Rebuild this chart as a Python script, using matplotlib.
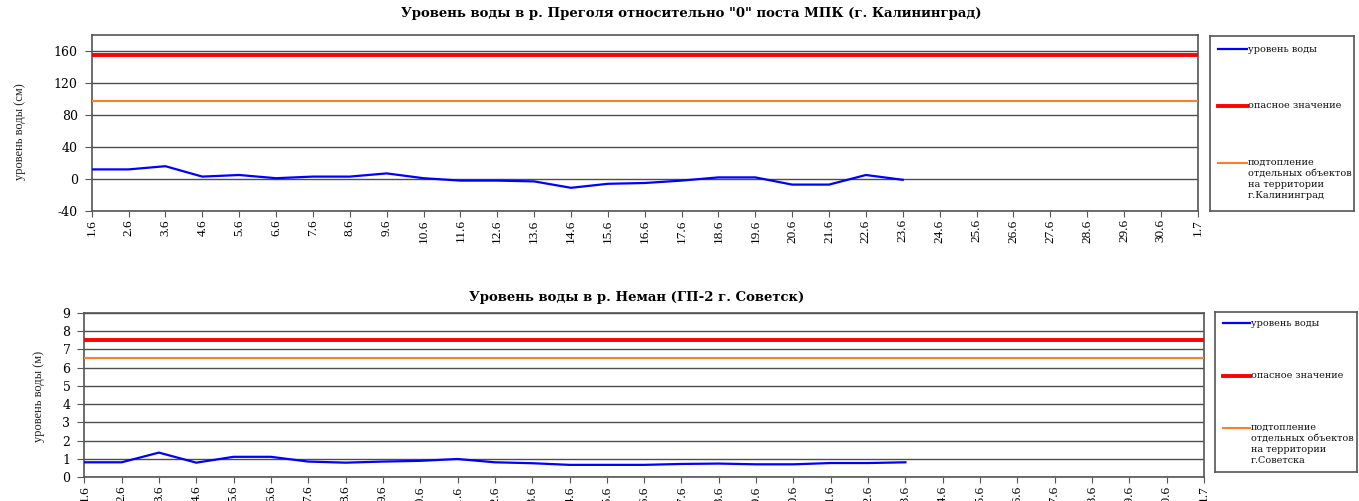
import matplotlib
matplotlib.use("Agg")
import matplotlib.pyplot as plt
from matplotlib.lines import Line2D

plt.rcParams['font.family'] = ['DejaVu Serif', 'Liberation Serif']
plt.rcParams['axes.unicode_minus'] = False

dates = ["1.6", "2.6", "3.6", "4.6", "5.6", "6.6", "7.6", "8.6", "9.6", "10.6",
         "11.6", "12.6", "13.6", "14.6", "15.6", "16.6", "17.6", "18.6", "19.6", "20.6",
         "21.6", "22.6", "23.6", "24.6", "25.6", "26.6", "27.6", "28.6", "29.6", "30.6", "1.7"]

pregolya_level = [12, 12, 16, 3, 5, 1, 3, 3, 7, 1, -2, -2, -3, -11, -6, -5, -2, 2, 2, -7, -7, 5, -1]
pregolya_danger = 155
pregolya_flood = 97

neman_level = [0.82, 0.82, 1.35, 0.80, 1.12, 1.12, 0.86, 0.80, 0.86, 0.90, 1.00, 0.82, 0.77,
               0.68, 0.68, 0.68, 0.73, 0.75, 0.71, 0.71, 0.78, 0.78, 0.82]
neman_danger = 7.5
neman_flood = 6.5

title_top = 'Уровень воды в р. Преголя относительно "0" поста МПК (г. Калининград)'
title_bot = 'Уровень воды в р. Неман (ГП-2 г. Советск)'
ylabel_top = 'уровень воды (см)'
ylabel_bot = 'уровень воды (м)'
legend_labels_top = ['уровень воды', 'опасное значение',
                     'подтопление\nотдельных объектов\nна территории\nг.Калининград']
legend_labels_bot = ['уровень воды', 'опасное значение',
                     'подтопление\nотдельных объектов\nна территории\nг.Советска']

BLUE = '#0000ff'
RED = '#ff0000'
ORANGE = '#ff7f27'
GRID = '#4d4d4d'
SPINE = '#555555'
SERIF_NARROW = ['Liberation Serif', 'DejaVu Serif']

W, H = 1359, 501
fig = plt.figure(figsize=(W / 100, H / 100), dpi=100)
fig.patch.set_facecolor('white')


def px_axes(l, t, r, b):
    return fig.add_axes([l / W, 1 - b / H, (r - l) / W, (b - t) / H])


def draw_chart(ax, level, danger, flood, ylim, yticks, ylabel):
    n = len(dates)
    x = list(range(n))
    ax.plot(x[:len(level)], level, color=BLUE, lw=1.6, zorder=4)
    ax.plot(x, [danger] * n, color=RED, lw=2.8, zorder=3)
    ax.plot(x, [flood] * n, color=ORANGE, lw=1.5, zorder=3)
    ax.set_xlim(0, n - 1)
    ax.set_ylim(*ylim)
    ax.set_yticks(yticks)
    ax.set_xticks(x)
    ax.set_xticklabels(dates, rotation=90, fontsize=9.5, family=SERIF_NARROW)
    ax.tick_params(axis='y', labelsize=9, length=5, color=SPINE, pad=5)
    ax.tick_params(axis='x', length=4, color=SPINE, pad=2)
    ax.grid(axis='y', color=GRID, lw=1.0, zorder=1)
    for s in ax.spines.values():
        s.set_color(SPINE)
        s.set_linewidth(1.2)
    ax.set_ylabel(ylabel, fontsize=9, color='#222222', family=SERIF_NARROW)


def draw_legend(l, t, r, b, labels, ys, text_x, fs):
    lax = px_axes(l, t, r, b)
    lax.set_xlim(0, r - l)
    lax.set_ylim(b - t, 0)
    lax.set_xticks([])
    lax.set_yticks([])
    for s in lax.spines.values():
        s.set_color('#555555')
        s.set_linewidth(1.2)
    colors = [BLUE, RED, ORANGE]
    widths = [1.6, 2.8, 1.5]
    for lab, y, c, w in zip(labels, ys, colors, widths):
        lax.add_line(Line2D([8, text_x - 1], [y, y], color=c, lw=w))
        lax.text(text_x, y - 5 if '\n' in lab else y, lab, fontsize=fs,
                 va='top' if '\n' in lab else 'center',
                 ha='left', linespacing=1.3, color='#111111')
    return lax


# Top chart
ax1 = px_axes(91.7, 35, 1197.7, 211)
draw_chart(ax1, pregolya_level, pregolya_danger, pregolya_flood,
           (-40, 180), [-40, 0, 40, 80, 120, 160], ylabel_top)
ax1.yaxis.set_label_coords(-0.059, 0.45)
fig.text(691 / W, 1 - 14 / H, title_top, fontsize=9.5, fontweight='bold',
         ha='center', va='center')

draw_legend(1210, 36, 1354, 211, legend_labels_top, [13, 70, 127], 38, 7.0)

# Bottom chart
ax2 = px_axes(84.3, 312.7, 1204, 477.3)
draw_chart(ax2, neman_level, neman_danger, neman_flood,
           (0, 9), list(range(10)), ylabel_bot)
ax2.yaxis.set_label_coords(-0.035, 0.49)
fig.text(637 / W, 1 - 297 / H, title_bot, fontsize=9.5, fontweight='bold',
         ha='center', va='center')

draw_legend(1215, 312, 1357, 472, legend_labels_bot, [11, 64, 116], 36, 6.9)

fig.savefig('out.png', dpi=100, facecolor='white')
